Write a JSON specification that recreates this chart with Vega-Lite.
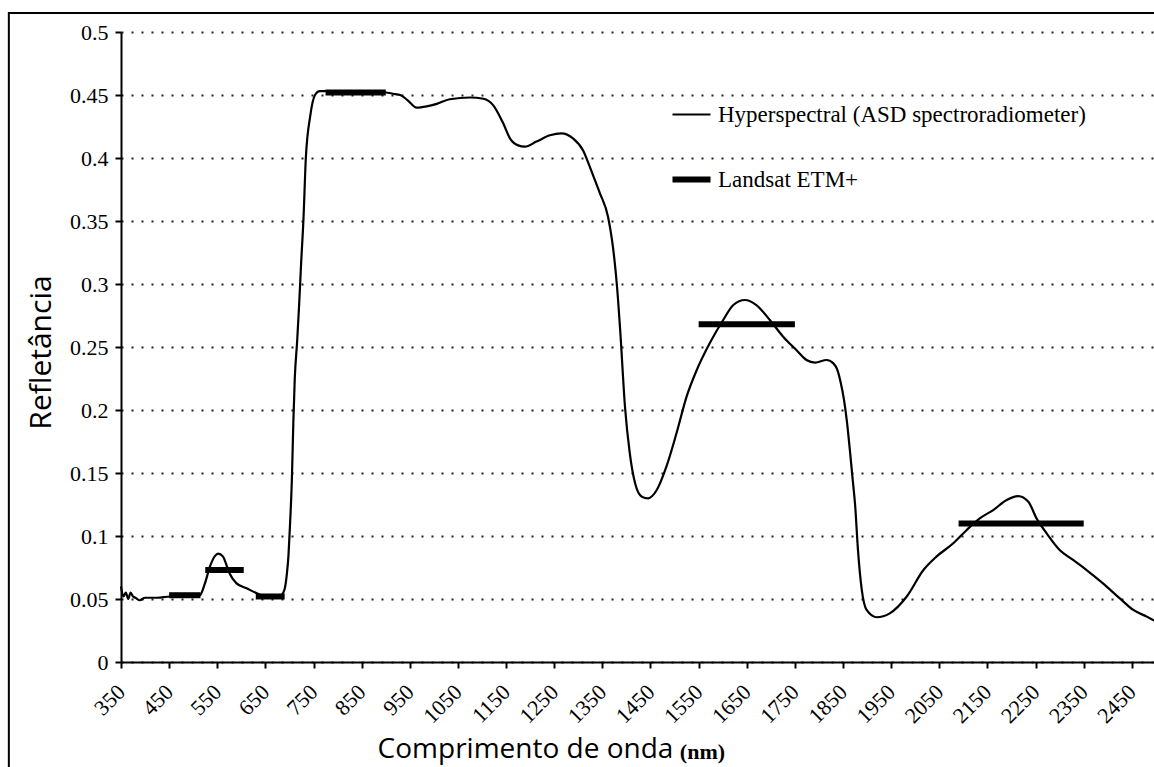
{
  "$schema": "https://vega.github.io/schema/vega-lite/v6.json",
  "width": 1033,
  "height": 630,
  "autosize": {"type": "none"},
  "padding": {"left": 121, "top": 32, "right": 0, "bottom": 105},
  "background": "white",
  "config": {
    "view": {"stroke": null},
    "axis": {
      "domainColor": "black",
      "domainWidth": 2,
      "tickColor": "black",
      "tickWidth": 2,
      "tickSize": 6,
      "labelFont": "Liberation Serif",
      "labelColor": "black",
      "titleFont": "Open Sans",
      "titleFontWeight": "normal",
      "titleColor": "black",
      "gridColor": "#222222",
      "gridDash": [2, 8],
      "gridWidth": 2
    }
  },
  "datasets": {
    "hyperspectral": [
      {"nm": 350, "refl": 0.060}, {"nm": 355, "refl": 0.052}, {"nm": 360, "refl": 0.055},
      {"nm": 365, "refl": 0.050}, {"nm": 370, "refl": 0.055}, {"nm": 375, "refl": 0.052},
      {"nm": 380, "refl": 0.051}, {"nm": 389, "refl": 0.049}, {"nm": 400, "refl": 0.051},
      {"nm": 425, "refl": 0.051}, {"nm": 452, "refl": 0.052}, {"nm": 486, "refl": 0.052},
      {"nm": 514, "refl": 0.053}, {"nm": 524, "refl": 0.062}, {"nm": 535, "refl": 0.076},
      {"nm": 545, "refl": 0.084}, {"nm": 552, "refl": 0.086}, {"nm": 562, "refl": 0.0836},
      {"nm": 570, "refl": 0.076}, {"nm": 576, "refl": 0.070}, {"nm": 590, "refl": 0.0624},
      {"nm": 611, "refl": 0.0585}, {"nm": 632, "refl": 0.0545}, {"nm": 653, "refl": 0.0518},
      {"nm": 670, "refl": 0.0515}, {"nm": 684, "refl": 0.0535}, {"nm": 690, "refl": 0.058},
      {"nm": 694, "refl": 0.068}, {"nm": 698, "refl": 0.085}, {"nm": 701, "refl": 0.108},
      {"nm": 705, "refl": 0.145}, {"nm": 708, "refl": 0.19}, {"nm": 711, "refl": 0.225},
      {"nm": 716, "refl": 0.255}, {"nm": 720, "refl": 0.283}, {"nm": 724, "refl": 0.315},
      {"nm": 729, "refl": 0.351}, {"nm": 734, "refl": 0.400}, {"nm": 743, "refl": 0.433},
      {"nm": 753, "refl": 0.450}, {"nm": 763, "refl": 0.453}, {"nm": 780, "refl": 0.453},
      {"nm": 850, "refl": 0.452}, {"nm": 900, "refl": 0.452}, {"nm": 915, "refl": 0.451},
      {"nm": 930, "refl": 0.450}, {"nm": 945, "refl": 0.446}, {"nm": 964, "refl": 0.440},
      {"nm": 985, "refl": 0.441}, {"nm": 1006, "refl": 0.443}, {"nm": 1033, "refl": 0.4466},
      {"nm": 1075, "refl": 0.448}, {"nm": 1103, "refl": 0.447}, {"nm": 1123, "refl": 0.442},
      {"nm": 1144, "refl": 0.4275}, {"nm": 1158, "refl": 0.4156}, {"nm": 1175, "refl": 0.410},
      {"nm": 1189, "refl": 0.409}, {"nm": 1213, "refl": 0.413}, {"nm": 1241, "refl": 0.418},
      {"nm": 1265, "refl": 0.4196}, {"nm": 1289, "refl": 0.4156}, {"nm": 1310, "refl": 0.406},
      {"nm": 1324, "refl": 0.393}, {"nm": 1335, "refl": 0.382}, {"nm": 1345, "refl": 0.372},
      {"nm": 1362, "refl": 0.353}, {"nm": 1370, "refl": 0.335}, {"nm": 1376, "refl": 0.316},
      {"nm": 1380, "refl": 0.300}, {"nm": 1387, "refl": 0.2635}, {"nm": 1397, "refl": 0.2026},
      {"nm": 1407, "refl": 0.1656}, {"nm": 1418, "refl": 0.1418}, {"nm": 1432, "refl": 0.1312},
      {"nm": 1445, "refl": 0.1299}, {"nm": 1463, "refl": 0.1365}, {"nm": 1483, "refl": 0.155},
      {"nm": 1504, "refl": 0.1815}, {"nm": 1525, "refl": 0.2106}, {"nm": 1546, "refl": 0.2317},
      {"nm": 1573, "refl": 0.253}, {"nm": 1601, "refl": 0.2714}, {"nm": 1622, "refl": 0.2833},
      {"nm": 1646, "refl": 0.2873}, {"nm": 1670, "refl": 0.2833}, {"nm": 1698, "refl": 0.2714},
      {"nm": 1726, "refl": 0.258}, {"nm": 1753, "refl": 0.2476}, {"nm": 1774, "refl": 0.2397},
      {"nm": 1792, "refl": 0.2376}, {"nm": 1816, "refl": 0.2397}, {"nm": 1830, "refl": 0.237},
      {"nm": 1838, "refl": 0.232}, {"nm": 1845, "refl": 0.222}, {"nm": 1852, "refl": 0.208},
      {"nm": 1858, "refl": 0.191}, {"nm": 1865, "refl": 0.165}, {"nm": 1870, "refl": 0.145},
      {"nm": 1875, "refl": 0.125}, {"nm": 1881, "refl": 0.089}, {"nm": 1889, "refl": 0.057},
      {"nm": 1899, "refl": 0.0413}, {"nm": 1920, "refl": 0.0355}, {"nm": 1947, "refl": 0.0386},
      {"nm": 1982, "refl": 0.0518}, {"nm": 2017, "refl": 0.073}, {"nm": 2044, "refl": 0.0836},
      {"nm": 2079, "refl": 0.0942}, {"nm": 2107, "refl": 0.1048}, {"nm": 2134, "refl": 0.114},
      {"nm": 2162, "refl": 0.1206}, {"nm": 2190, "refl": 0.1286}, {"nm": 2214, "refl": 0.1317},
      {"nm": 2235, "refl": 0.1272}, {"nm": 2252, "refl": 0.114}, {"nm": 2273, "refl": 0.1021},
      {"nm": 2300, "refl": 0.0889}, {"nm": 2328, "refl": 0.081}, {"nm": 2356, "refl": 0.073},
      {"nm": 2390, "refl": 0.0624}, {"nm": 2425, "refl": 0.0505}, {"nm": 2453, "refl": 0.0413},
      {"nm": 2481, "refl": 0.036}, {"nm": 2496, "refl": 0.033}
    ],
    "landsat": [
      {"band": "1", "start": 450, "end": 515, "refl": 0.053},
      {"band": "2", "start": 525, "end": 605, "refl": 0.073},
      {"band": "3", "start": 630, "end": 690, "refl": 0.052},
      {"band": "4", "start": 775, "end": 900, "refl": 0.452},
      {"band": "5", "start": 1550, "end": 1750, "refl": 0.268},
      {"band": "7", "start": 2090, "end": 2350, "refl": 0.110}
    ]
  },
  "layer": [
    {
      "data": {"values": [{}]},
      "mark": {"type": "rect", "fill": null, "stroke": "black", "strokeWidth": 2, "clip": false},
      "encoding": {
        "x": {"datum": 117, "type": "quantitative"},
        "x2": {"datum": 2700},
        "y": {"datum": 0.5151, "type": "quantitative"},
        "y2": {"datum": -0.2}
      }
    },
    {
      "data": {"name": "hyperspectral"},
      "mark": {"type": "line", "interpolate": "monotone", "strokeWidth": 2.2},
      "encoding": {
        "x": {
          "field": "nm",
          "type": "quantitative",
          "scale": {"domain": [350, 2496], "nice": false, "zero": false},
          "axis": {
            "title": "Comprimento de onda",
            "titleFontSize": 28,
            "titleX": 404,
            "titleY": 87,
            "titleAlign": "center",
            "titleBaseline": "middle",
            "values": [350, 450, 550, 650, 750, 850, 950, 1050, 1150, 1250, 1350, 1450, 1550, 1650, 1750, 1850, 1950, 2050, 2150, 2250, 2350, 2450],
            "format": "d",
            "labelAngle": -45,
            "labelAlign": "right",
            "labelBaseline": "middle",
            "labelFontSize": 22,
            "labelPadding": 20,
            "grid": false
          }
        },
        "y": {
          "field": "refl",
          "type": "quantitative",
          "scale": {"domain": [0, 0.5], "nice": false},
          "axis": {
            "title": "Refletância",
            "titleFontSize": 30,
            "titleX": -80,
            "titleY": 320,
            "titleAngle": -90,
            "titleAlign": "center",
            "titleBaseline": "middle",
            "values": [0, 0.05, 0.1, 0.15, 0.2, 0.25, 0.3, 0.35, 0.4, 0.45, 0.5],
            "format": ".2~f",
            "labelFontSize": 22,
            "labelPadding": 7,
            "grid": true
          }
        },
        "color": {
          "datum": "Hyperspectral (ASD spectroradiometer)",
          "type": "nominal",
          "scale": {
            "domain": ["Hyperspectral (ASD spectroradiometer)", "Landsat ETM+"],
            "range": ["black", "black"]
          },
          "legend": {
            "title": null,
            "orient": "none",
            "legendX": 559,
            "legendY": 71,
            "padding": 0,
            "symbolType": "stroke",
            "symbolSize": 1444,
            "symbolStrokeColor": "black",
            "labelFont": "Liberation Serif",
            "labelFontSize": 23,
            "labelColor": "black",
            "labelLimit": 600,
            "labelOffset": 15,
            "rowPadding": 40,
            "encode": {
              "symbols": {
                "update": {
                  "strokeWidth": {"signal": "datum.value === 'Landsat ETM+' ? 6 : 2"}
                }
              }
            }
          }
        }
      }
    },
    {
      "data": {"name": "landsat"},
      "mark": {"type": "rule", "strokeWidth": 6, "strokeCap": "butt"},
      "encoding": {
        "x": {"field": "start", "type": "quantitative"},
        "x2": {"field": "end"},
        "y": {"field": "refl", "type": "quantitative"},
        "color": {"datum": "Landsat ETM+", "type": "nominal"}
      }
    },
    {
      "data": {"values": [{}]},
      "mark": {"type": "text", "text": "(nm)", "font": "Liberation Serif", "fontWeight": "bold", "fontSize": 22, "align": "left", "baseline": "middle", "color": "black"},
      "encoding": {
        "x": {"datum": 1511, "type": "quantitative"},
        "y": {"datum": -0.0714, "type": "quantitative"}
      }
    }
  ]
}
